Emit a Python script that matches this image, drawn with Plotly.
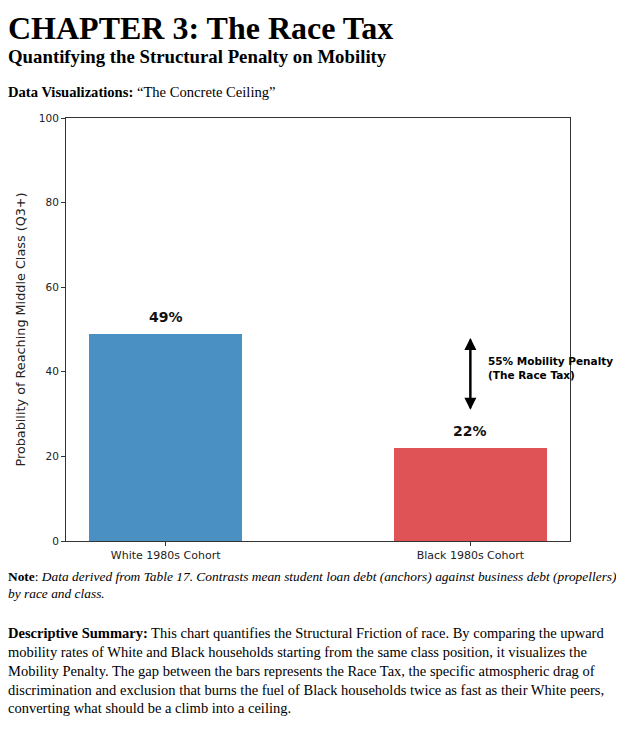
import plotly.graph_objects as go

categories = ["White 1980s Cohort", "Black 1980s Cohort"]
values = [49, 22]
value_labels = ["49%", "22%"]
bar_colors = ["#4a90c2", "#df5357"]
y_ticks = [0, 20, 40, 60, 80, 100]
penalty_text = "55% Mobility Penalty<br>(The Race Tax)"
arrow_top = 48
arrow_bottom = 31

# page body has an 8px default margin; compensate so the page matches pixel positions
OFF = 8
W, H = 624 - OFF, 753 - OFF
L, R, T, B = 64 - OFF, 570 - OFF, 118 - OFF, 541 - OFF


def px(x):
    return (x - OFF - L) / (R - L)


def py(y):
    return (B - (y - OFF)) / (B - T)


fig = go.Figure()
fig.add_trace(go.Bar(
    x=[0, 1], y=values, width=0.5,
    marker=dict(color=bar_colors, line=dict(width=0)),
    showlegend=False, hoverinfo="skip",
))

serif = "Liberation Serif, Times New Roman, serif"
sans = "DejaVu Sans, sans-serif"

ann = []
for i, (v, t) in enumerate(zip(values, value_labels)):
    ann.append(dict(x=i, y=v, xref="x", yref="y", text=f"<b>{t}</b>", showarrow=False,
                    yanchor="bottom", yshift=7, font=dict(family=sans, size=14, color="#111")))

# double-headed arrow
for tip, tail in [(arrow_top, arrow_bottom), (arrow_bottom, arrow_top)]:
    ann.append(dict(x=1, y=tip, ax=1, ay=tail, xref="x", yref="y", axref="x", ayref="y",
                    text="", showarrow=True, arrowhead=2, arrowsize=1.2, arrowwidth=2,
                    arrowcolor="#000"))
ann.append(dict(x=1.05, y=(arrow_top + arrow_bottom) / 2 + 1.5, xref="x", yref="y",
                text=f"<b>{penalty_text}</b>", showarrow=False, xanchor="left", yanchor="middle",
                align="left", font=dict(family=sans, size=10.5, color="#000")))

# page text: title + subtitle in one block
heading = ("<span style='font-size:32px'><b>CHAPTER 3: The Race Tax</b></span><br>"
           "<b>Quantifying the Structural Penalty on Mobility</b>")
ann.append(dict(x=px(4), y=py(8), xref="paper", yref="paper", xanchor="left", yanchor="top",
                text=heading, showarrow=False, align="left",
                font=dict(family=serif, size=18.8, color="#000")))
ann.append(dict(x=px(4), y=py(82), xref="paper", yref="paper", xanchor="left", yanchor="top",
                text="<b>Data Visualizations:</b> “The Concrete Ceiling”", showarrow=False,
                font=dict(family=serif, size=14.6, color="#000")))
ann.append(dict(x=px(4), y=py(567), xref="paper", yref="paper", xanchor="left", yanchor="top",
                align="left", showarrow=False,
                text="<b>Note</b>: <i>Data derived from Table 17. Contrasts mean student loan debt (anchors) against business debt (propellers)</i><br><i>by race and class.</i>",
                font=dict(family=serif, size=13.4, color="#000")))
summary = ("<b>Descriptive Summary:</b> This chart quantifies the Structural Friction of race. By comparing the upward<br>"
           "mobility rates of White and Black households starting from the same class position, it visualizes the<br>"
           "Mobility Penalty. The gap between the bars represents the Race Tax, the specific atmospheric drag of<br>"
           "discrimination and exclusion that burns the fuel of Black households twice as fast as their White peers,<br>"
           "converting what should be a climb into a ceiling.")
ann.append(dict(x=px(4), y=py(623), xref="paper", yref="paper", xanchor="left", yanchor="top",
                align="left", showarrow=False, text=summary,
                font=dict(family=serif, size=14.5, color="#000")))

fig.update_layout(
    width=W, height=H,
    margin=dict(l=L, r=W - R, t=T, b=H - B, pad=0),
    paper_bgcolor="white", plot_bgcolor="white",
    annotations=ann,
    xaxis=dict(range=[-0.327, 1.327], tickvals=[0, 1], ticktext=categories,
               showgrid=False, zeroline=False, showline=True, linecolor="#333", linewidth=1,
               mirror=True, ticks="outside", ticklen=4, tickcolor="#333",
               tickfont=dict(family=sans, size=11, color="#222")),
    yaxis=dict(range=[0, 100], tickvals=y_ticks, showgrid=False, zeroline=False,
               showline=True, linecolor="#333", linewidth=1, mirror=True,
               ticks="outside", ticklen=4, tickcolor="#333",
               tickfont=dict(family=sans, size=10.5, color="#222"),
               title=dict(text="Probability of Reaching Middle Class (Q3+)",
                          font=dict(family=sans, size=12.8, color="#222"), standoff=10)),
    bargap=0,
)

fig.write_html("out.html")
